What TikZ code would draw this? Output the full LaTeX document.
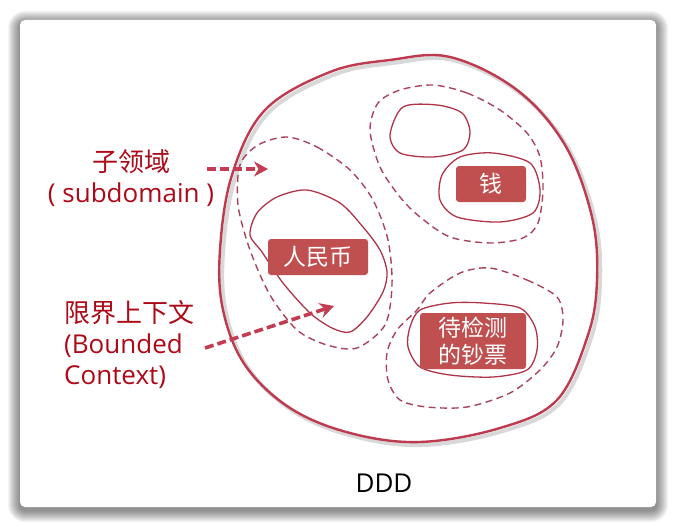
\documentclass[tikz,border=0pt]{standalone}
\usepackage{fontspec}
\setmainfont{Open Sans}
\newfontfamily\cjk{Noto Sans CJK SC}
\usetikzlibrary{arrows.meta,positioning}
\definecolor{outerred}{HTML}{BE3A4E}
\definecolor{dashred}{HTML}{A8455C}
\definecolor{ctxred}{HTML}{B03449}
\definecolor{boxred}{HTML}{C04F50}
\definecolor{notered}{HTML}{AC0A18}
\definecolor{arrowred}{HTML}{C43C52}

\begin{document}
\begin{tikzpicture}[
  x=1pt,y=-1pt,
  domline/.style={line width=2.4pt,draw=outerred},
  subline/.style={line width=1.4pt,draw=dashred,dash pattern=on 7pt off 4.5pt},
  ctxline/.style={line width=1.3pt,draw=ctxred},
  ctxbox/.style={rectangle,fill=boxred,rounded corners=3pt,text=white,align=center,inner sep=0pt,font=\cjk\fontsize{23}{27}\selectfont},
  note/.style={text=notered,inner sep=0pt,font=\fontsize{26}{31}\selectfont},
  pointer/.style={-{Stealth[length=14pt,width=15pt]},line width=3.6pt,draw=arrowred,dash pattern=on 9pt off 4pt}
]
\useasboundingbox (0,0) rectangle (677,527);
\fill[white] (0,0) rectangle (677,527);
\foreach \d in {1,...,12}{
  \pgfmathsetmacro\rr{5+\d}
  \fill[black,opacity=0.045,rounded corners=\rr pt] (20-\d,23-\d) rectangle (656+\d,510+\d);
}
\fill[white,rounded corners=5pt] (20,20) rectangle (656,507);

\draw[gray,opacity=0.3,line width=4pt,shift={(3,3)}] plot[smooth cycle,tension=0.6] coordinates {(450,57) (517,90) (565,145) (592,217) (597,280) (588,335) (557,400) (500,428) (420,442) (350,433) (290,408) (245,365) (223,310) (220,250) (232,175) (265,110) (330,72) (390,60)};
\draw[domline] plot[smooth cycle,tension=0.6] coordinates {(450,57) (517,90) (565,145) (592,217) (597,280) (588,335) (557,400) (500,428) (420,442) (350,433) (290,408) (245,365) (223,310) (220,250) (232,175) (265,110) (330,72) (390,60)};

\draw[subline] plot[smooth cycle] coordinates {(287,137) (317,147) (350,170) (373,200) (388,240) (392,285) (385,325) (357,348) (327,345) (297,330) (270,295) (250,250) (238,205) (240,165) (258,145)};
\draw[subline] plot[smooth cycle] coordinates {(433,85) (467,93) (500,110) (527,133) (540,157) (543,190) (538,223) (523,238) (490,243) (450,237) (420,217) (400,197) (380,167) (370,130) (378,103) (400,90)};
\draw[subline] plot[smooth cycle] coordinates {(490,268) (527,280) (557,297) (563,320) (557,347) (540,370) (510,393) (467,407) (427,407) (400,400) (388,380) (387,353) (397,330) (417,310) (430,293) (460,273)};

\draw[ctxline] plot[smooth cycle] coordinates {(307,190) (340,203) (363,227) (380,250) (387,272) (383,292) (367,317) (350,332) (332,328) (310,313) (283,283) (262,252) (250,235) (257,213) (277,197)};
\draw[ctxline] plot[smooth cycle] coordinates {(403,107) (437,105) (462,113) (470,132) (463,150) (433,157) (400,153) (390,135)};
\draw[ctxline] plot[smooth cycle] coordinates {(460,157) (493,153) (530,163) (540,190) (533,213) (500,222) (457,217) (440,200) (442,175)};
\draw[ctxline] plot[smooth cycle] coordinates {(450,303) (483,303) (520,308) (535,327) (537,350) (527,370) (493,377) (450,375) (420,367) (408,347) (410,327) (420,310)};

\node[ctxbox,minimum width=100pt,minimum height=36pt] (rmb) at (318,257) {人民币};
\node[ctxbox,minimum width=70pt,minimum height=36pt] (qian) at (491,184) {钱};
\node[ctxbox,minimum width=106pt,minimum height=56pt] (chaopiao) at (473,341) {待检测\\的钞票};

\node[note,align=center] (subdom) at (131,178) {{\cjk 子领域}\\( subdomain )};
\node[note,align=left,anchor=west] (bctx) at (64,345) {{\cjk 限界上下文}\\(Bounded\\Context)};
\node[font=\fontsize{26}{31}\selectfont] (ddd) at (384,483) {DDD};

\coordinate (subTail) at (207,169);
\coordinate (subHead) at (268,169);
\coordinate (ctxTail) at (205,348);
\coordinate (ctxHead) at (334,306);
\draw[pointer] (subTail) -- (subHead);
\draw[pointer] (ctxTail) -- (ctxHead);
\end{tikzpicture}
\end{document}
